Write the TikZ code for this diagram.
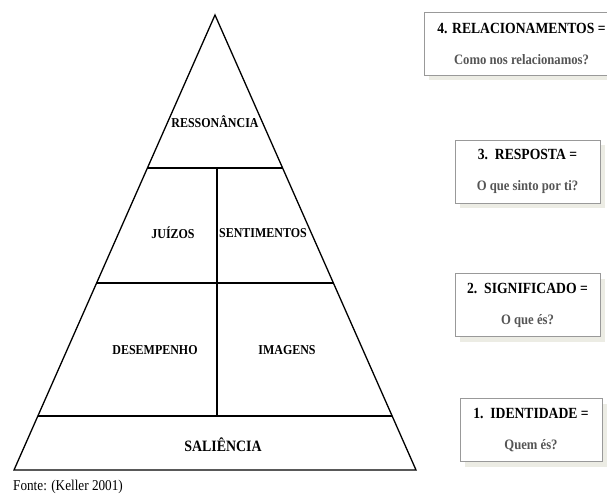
\documentclass[tikz,border=0pt]{standalone}
\usepackage{fontspec}
\setmainfont{Liberation Serif}[FakeStretch=0.88]
\usetikzlibrary{calc,shadows}
\definecolor{sombra}{RGB}{236,236,228}
\definecolor{subcinza}{RGB}{85,85,85}
\tikzset{
  nivel/.style={font=\bfseries\fontsize{13.6}{16}\selectfont},
  caixa/.style={draw=black!40, line width=0.8pt, fill=white, align=center, inner sep=0pt,
    minimum width=145pt, minimum height=63pt,
    drop shadow={shadow xshift=5pt, shadow yshift=-5pt, fill=sombra, opacity=1}},
}
\newcommand{\titulo}[1]{{\bfseries\fontsize{15.5}{18}\selectfont #1}}
\newcommand{\pergunta}[1]{{\bfseries\color{subcinza}\fontsize{14.4}{17}\selectfont #1}}
\begin{document}
\begin{tikzpicture}[x=1pt,y=-1pt]
    \clip (0,0) rectangle (607,497);
    \fill[white] (0,0) rectangle (607,497);

    \coordinate (topo) at (215,15);
    \coordinate (esq) at (14,470);
    \coordinate (dir) at (416,470);

    \draw [line width=1.3pt, line join=miter] (topo) -- (esq) -- (dir) -- cycle;

    \coordinate (a1) at ($(topo)!0.3363!(esq)$);
    \coordinate (b1) at ($(topo)!0.3363!(dir)$);
    \coordinate (a2) at ($(topo)!0.589!(esq)$);
    \coordinate (b2) at ($(topo)!0.589!(dir)$);
    \coordinate (a3) at ($(topo)!0.8813!(esq)$);
    \coordinate (b3) at ($(topo)!0.8813!(dir)$);
    \coordinate (m1) at (217,168);
    \coordinate (m3) at (217,416);

    \draw [line width=1.2pt] (a1) -- (b1);
    \draw [line width=1.2pt] (a2) -- (b2);
    \draw [line width=1.2pt] (a3) -- (b3);
    \draw [line width=1.2pt] (m1) -- (m3);

    \node[nivel] (ressonancia) at (215,122) {RESSONÂNCIA};
    \node[nivel] (juizos) at (173,233) {JUÍZOS};
    \node[nivel] (sentimentos) at (263,233) {SENTIMENTOS};
    \node[nivel] (desempenho) at (155,350) {DESEMPENHO};
    \node[nivel] (imagens) at (287,350) {IMAGENS};
    \node[font=\bfseries\fontsize{15.8}{18}\selectfont] (saliencia) at (223,445) {SALIÊNCIA};

    \node[anchor=west, inner sep=0pt, font=\fontsize{15}{18}\selectfont] (fonte) at (13,487) {Fonte: (Keller 2001)};

    % caixas da direita
    \node[caixa, minimum width=195pt] (relac) at (521.5,43.5)
        {\titulo{4. RELACIONAMENTOS =}\\[19pt]\pergunta{Como nos relacionamos?}};
    \node[caixa] (resposta) at (527.5,171.5)
        {\titulo{3.\ \ RESPOSTA =}\\[19pt]\pergunta{O que sinto por ti?}};
    \node[caixa] (signif) at (527.5,305)
        {\titulo{2.\ \ SIGNIFICADO =}\\[19pt]\pergunta{O que és?}};
    \node[caixa, minimum width=142pt] (ident) at (531,430)
        {\titulo{1.\ \ IDENTIDADE =}\\[19pt]\pergunta{Quem és?}};
\end{tikzpicture}
\end{document}
